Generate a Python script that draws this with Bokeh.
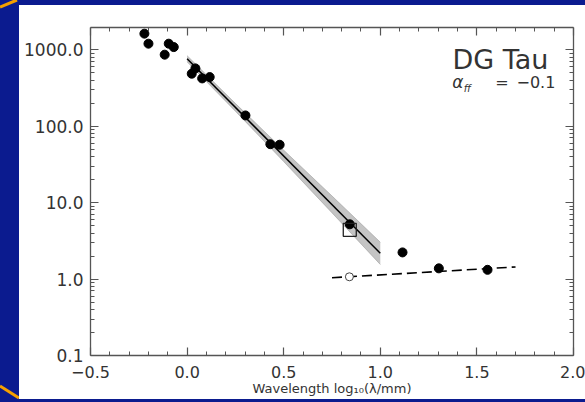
from bokeh.plotting import figure
from bokeh.layouts import row, column
from bokeh.models import (Range1d, LogAxis, LinearAxis, FixedTicker, CustomJSTickFormatter,
                          Label, Spacer)
from bokeh.embed import file_html
from bokeh.resources import INLINE

# ---- data ----
filled_x = [-0.221, -0.200, -0.116, -0.095, -0.069, 0.024, 0.043, 0.078, 0.117,
            0.302, 0.431, 0.479, 0.842, 1.115, 1.303, 1.555]
filled_y = [1620, 1198, 860, 1198, 1081, 485, 569, 421, 438,
            138, 58.0, 57.1, 5.2, 2.23, 1.38, 1.32]

open_circle_x = [0.84]
open_circle_y = [1.07]

square_x = [0.842]
square_y = [4.4]

fit_x = [0.0, 1.0]
fit_y = [760, 2.17]

band_x = [0.0, 0.25, 0.5, 0.75, 1.0]
band_lower = [693, 157, 34.4, 7.35, 1.55]
band_upper = [834, 198, 48.5, 12.2, 3.03]

ff_x = [0.75, 1.70]
ff_y = [1.04, 1.44]

x_ticks = [-0.5, 0.0, 0.5, 1.0, 1.5, 2.0]
x_minor = [-0.4, -0.3, -0.2, -0.1, 0.1, 0.2, 0.3, 0.4, 0.6, 0.7, 0.8, 0.9,
           1.1, 1.2, 1.3, 1.4, 1.6, 1.7, 1.8, 1.9]
y_ticks = [0.1, 1.0, 10.0, 100.0, 1000.0]
y_minor = [0.2, 0.3, 0.4, 0.5, 0.6, 0.7, 0.8, 0.9,
           2, 3, 4, 5, 6, 7, 8, 9,
           20, 30, 40, 50, 60, 70, 80, 90,
           200, 300, 400, 500, 600, 700, 800, 900]

title_text = "DG Tau"
alpha_main = "α"
alpha_sub = "ff"
alpha_eq = "="
alpha_val = "−0.1"
x_label = "Wavelength log₁₀(λ/mm)"

BLUE = "#0b1b8f"
TXT = "#333333"
AX = "#555555"
FONT = "DejaVu Sans"

p = figure(width=566, height=394, x_range=Range1d(-0.5, 2.0), y_range=Range1d(0.1, 1950),
           y_axis_type="log", output_backend="svg", toolbar_location=None,
           min_border_left=71, min_border_right=12, min_border_top=22, min_border_bottom=44)
p.xgrid.visible = False
p.ygrid.visible = False
p.outline_line_color = None
p.background_fill_color = "white"
p.border_fill_color = "white"

xt = FixedTicker(ticks=x_ticks, minor_ticks=x_minor)
yt = FixedTicker(ticks=y_ticks, minor_ticks=y_minor)

bottom = p.below[0]
left = p.left[0]
bottom.ticker = xt
left.ticker = yt
left.formatter = CustomJSTickFormatter(code="return tick.toFixed(1);")
bottom.formatter = CustomJSTickFormatter(code="return tick.toFixed(1).replace('-', '\u2212');")

top = LinearAxis(ticker=xt, formatter=CustomJSTickFormatter(code="return '';"))
right = LogAxis(ticker=yt, formatter=CustomJSTickFormatter(code="return '';"))
p.add_layout(top, "above")
p.add_layout(right, "right")

for ax in [bottom, left, top, right]:
    ax.axis_line_color = AX
    ax.axis_line_width = 1.3
    ax.major_tick_line_color = AX
    ax.minor_tick_line_color = AX
    ax.major_tick_line_width = 1.2
    ax.minor_tick_line_width = 1.0
    ax.major_tick_in = 8
    ax.major_tick_out = 0
    ax.minor_tick_in = 4
    ax.minor_tick_out = 0
    ax.major_label_text_color = TXT
    ax.major_label_text_font = FONT
    ax.major_label_text_font_size = "17px"

for ax in [top, right]:
    ax.major_label_standoff = 0
    ax.major_label_text_font_size = "1px"

bottom.major_label_text_font_size = "16px"
bottom.major_label_standoff = 10
left.major_label_standoff = 7

bottom.axis_label = x_label
bottom.axis_label_text_font = FONT
bottom.axis_label_text_font_size = "13px"
bottom.axis_label_text_font_style = "normal"
bottom.axis_label_text_color = TXT
bottom.axis_label_standoff = 0

# band and fit
p.varea(x=band_x, y1=band_lower, y2=band_upper, fill_color="#c4c4c4")
p.line(band_x, band_lower, line_color="#9a9a9a", line_width=0.6)
p.line(band_x, band_upper, line_color="#9a9a9a", line_width=0.6)
p.line(fit_x, fit_y, line_color="black", line_width=1.5)

# free-free line
p.line(ff_x, ff_y, line_color="black", line_width=1.6, line_dash="10 5")

p.scatter(filled_x, filled_y, size=9, marker="circle", fill_color="black", line_color="black")
p.scatter(open_circle_x, open_circle_y, size=8, marker="circle", fill_color="white",
          line_color="#444444", line_width=1)
p.scatter(square_x, square_y, size=13, marker="square", fill_color=None,
          line_color="#222222", line_width=1.3)

p.add_layout(Label(x=1.87, y=747, text=title_text, text_align="right", text_baseline="middle",
                   text_font=FONT, text_font_size="27px", text_color=TXT))
p.add_layout(Label(x=1.373, y=373, text=alpha_main, text_align="left", text_baseline="middle",
                   text_font=FONT, text_font_size="17px", text_color=TXT,
                   text_font_style="italic"))
p.add_layout(Label(x=1.432, y=311, text=alpha_sub, text_align="left", text_baseline="middle",
                   text_font=FONT, text_font_size="10px", text_color=TXT,
                   text_font_style="italic"))
p.add_layout(Label(x=1.595, y=373, text=alpha_eq, text_align="left", text_baseline="middle",
                   text_font=FONT, text_font_size="16px", text_color=TXT))
p.add_layout(Label(x=1.906, y=373, text=alpha_val, text_align="right", text_baseline="middle",
                   text_font=FONT, text_font_size="16px", text_color=TXT))

svg_bg = ("data:image/svg+xml;utf8,<svg xmlns='http://www.w3.org/2000/svg' width='19' height='402'>"
          "<line x1='0' y1='7' x2='17' y2='0' stroke='%23f5a000' stroke-width='3'/>"
          "<line x1='0' y1='386' x2='19' y2='398' stroke='%23f5a000' stroke-width='3'/></svg>")
left_bar = Spacer(width=19, height=402,
                  styles={"background-color": BLUE, "background-image": f'url("{svg_bg}")'})
top_bar = Spacer(width=566, height=5, styles={"background-color": BLUE})
bottom_bar = Spacer(width=566, height=3, styles={"background-color": BLUE})

layout = row(left_bar, column(top_bar, p, bottom_bar, spacing=0), spacing=0)

open("out.html", "w").write(file_html(layout, INLINE))
